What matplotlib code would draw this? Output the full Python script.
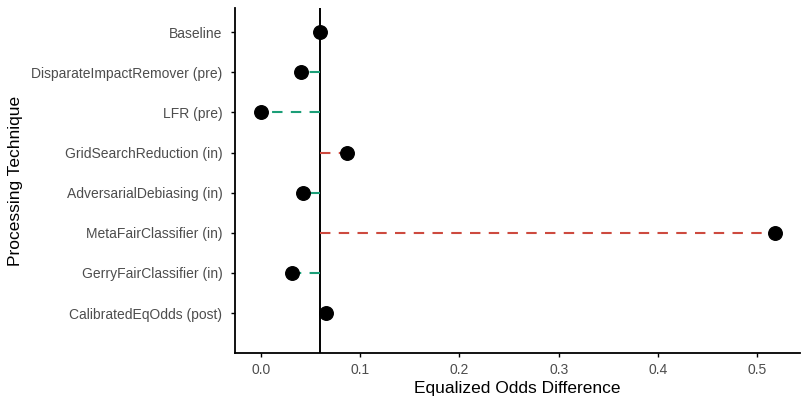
import numpy as np
import matplotlib
matplotlib.use("Agg")
import matplotlib.pyplot as plt

plt.rcParams['font.family'] = ['Liberation Sans', 'DejaVu Sans']

# data, top to bottom
techniques = [
    "Baseline",
    "DisparateImpactRemover (pre)",
    "LFR (pre)",
    "GridSearchReduction (in)",
    "AdversarialDebiasing (in)",
    "MetaFairClassifier (in)",
    "GerryFairClassifier (in)",
    "CalibratedEqOdds (post)",
]
eq_odds_diff = [0.0595, 0.040, 0.000, 0.0865, 0.042, 0.518, 0.031, 0.0655]

baseline = eq_odds_diff[0]
green = "#1b9e77"
red = "#cd4a3f"

fig = plt.figure(figsize=(8.1, 4.05), dpi=100)
ax = fig.add_axes([0.290, 0.128, 0.698, 0.852])

n = len(techniques)
ypos = np.arange(n, 0, -1)

for y, v in zip(ypos[1:], eq_odds_diff[1:]):
    col = green if v < baseline else red
    ax.plot([baseline, v], [y, y], color=col, lw=1.5, ls=(0, (5, 4)), zorder=2)

ax.axvline(baseline, color="black", lw=1.4, zorder=1)
ax.scatter(eq_odds_diff, ypos, s=95, color="black", zorder=3)

ax.set_xlim(-0.0262, 0.5434)
ax.set_ylim(0, n + 0.6)
ax.set_yticks(ypos)
ax.set_yticklabels(techniques)
ax.set_xticks([0.0, 0.1, 0.2, 0.3, 0.4, 0.5])
ax.set_xticklabels(["0.0", "0.1", "0.2", "0.3", "0.4", "0.5"])

for s in ["top", "right"]:
    ax.spines[s].set_visible(False)
for s in ["left", "bottom"]:
    ax.spines[s].set_linewidth(1.3)

ax.tick_params(axis="both", length=3, width=1, color="black",
               labelsize=10, labelcolor="#4d4d4d", pad=4)
ax.tick_params(axis="y", pad=6)
ax.set_xlabel("Equalized Odds Difference", fontsize=12.5, labelpad=3)
ax.set_ylabel("Processing Technique", fontsize=12.5, labelpad=6)

fig.savefig("out.png", dpi=100)
